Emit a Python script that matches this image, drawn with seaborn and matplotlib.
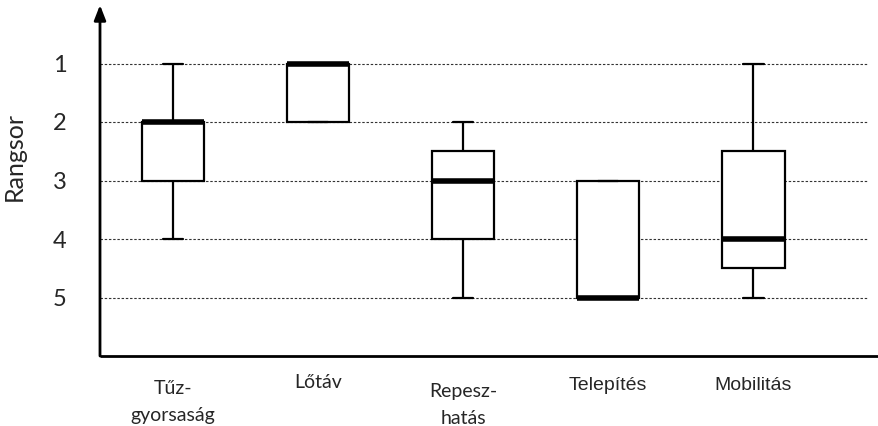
import pandas as pd
import matplotlib
matplotlib.use("Agg")
import matplotlib.pyplot as plt
import seaborn as sns

# rank values (1 = best) per criterion
categories = ["Tűz-\ngyorsaság", "Lőtáv", "Repesz-\nhatás", "Telepítés", "Mobilitás"]
tuzgyorsasag = [1, 2, 2, 2, 3, 3, 4]
lotav = [1, 1, 1, 1, 2, 2, 2]
repeszhatas = [2, 2, 3, 3, 4, 4, 5]
telepites = [3, 3, 3, 5, 5, 5, 5]
mobilitas = [1, 2, 3, 4, 4, 5, 5]
rank_ticks = [1, 2, 3, 4, 5]

series = [tuzgyorsasag, lotav, repeszhatas, telepites, mobilitas]
data = pd.DataFrame({
    "kat": [c for c, vals in zip(categories, series) for _ in vals],
    "rang": [v for vals in series for v in vals],
})

sns.set_style("white")
fig = plt.figure(figsize=(8.79, 4.26), dpi=100)
ax = fig.add_axes([100 / 879, 70 / 426, 768 / 879, 351 / 426])

sns.boxplot(data=data, x="kat", y="rang", order=categories, ax=ax,
            whis=(0, 100), width=0.43, fill=True, color="white",
            linecolor="black", linewidth=1.6, showfliers=False,
            capwidths=0.14,
            medianprops=dict(color="black", linewidth=4, solid_capstyle="butt"),
            zorder=3)
for p in ax.patches:
    p.set_facecolor("white")
    p.set_edgecolor("black")

ax.set_ylim(6, 0)
ax.set_xlim(-0.503, 4.79)
ax.set_yticks(rank_ticks)
ax.set_yticklabels([str(t) for t in rank_ticks], fontfamily="Lato", fontsize=17)
ax.tick_params(axis="y", length=0, pad=24)
ax.set_xticks([])
ax.set_xlabel("")
ax.set_ylabel("Rangsor", fontfamily="Lato", fontsize=18)
ax.yaxis.set_label_coords(-0.097, 0.567)

ax.grid(axis="y", color="#333333", linestyle=(0, (2.2, 1.6)), linewidth=0.8)
ax.set_axisbelow(True)
for s in ["top", "right", "left", "bottom"]:
    ax.spines[s].set_visible(False)

# axes with arrow on the y axis, x axis running to the edge
ax.annotate("", xy=(0, 1.0), xytext=(0, 0), xycoords="axes fraction",
            arrowprops=dict(arrowstyle="-|>,head_width=0.35,head_length=0.9",
                            color="black", lw=2, shrinkA=0, shrinkB=0))
ax.plot([0, 779 / 768], [0, 0], color="black", lw=2, transform=ax.transAxes,
        clip_on=False, solid_capstyle="butt")

# category labels (mixed fonts, as in the original)
label_fonts = ["Lato", "Lato", "Lato", "Liberation Sans", "Liberation Sans"]
label_offsets = [-46, -27, -49, -30, -30]
for i, (lab, fam, off) in enumerate(zip(categories, label_fonts, label_offsets)):
    ax.annotate(lab, xy=(i, 0), xycoords=("data", "axes fraction"),
                xytext=(0, off / 1.389), textcoords="offset points",
                ha="center", va="center", fontfamily=fam, fontsize=14,
                linespacing=1.75)

fig.savefig("out.png", dpi=100)
